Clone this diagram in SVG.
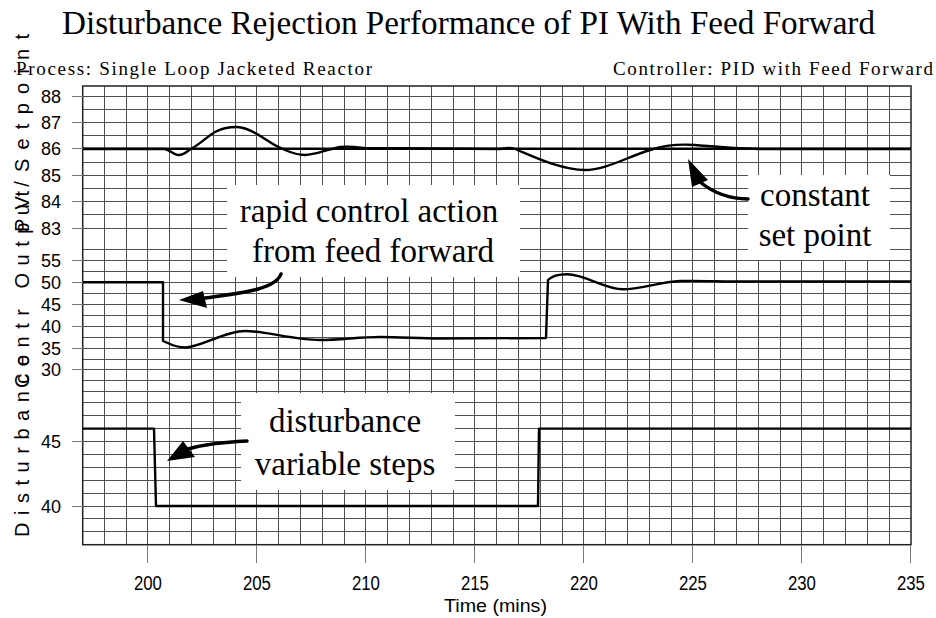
<svg xmlns="http://www.w3.org/2000/svg" width="936" height="618" viewBox="0 0 936 618">
<style>
.grid{stroke:#505050;stroke-width:1;fill:none;shape-rendering:crispEdges}
.tick{stroke:#777;stroke-width:1;fill:none;shape-rendering:crispEdges}
.frame{stroke:#222;stroke-width:1.5;fill:none}
.curve{stroke:#000;stroke-width:2.4;fill:none;stroke-linejoin:round}
.arr{stroke:#000;stroke-width:3.5;fill:none;stroke-linecap:round}
.head{fill:#000}
.serif{font-family:"Liberation Serif","Times New Roman",serif;fill:#000}
.sans{font-family:"Liberation Sans",Arial,sans-serif;fill:#000}
.ylab{font-size:18px;text-anchor:end}
.xlab{font-size:20px;text-anchor:middle}
.ann{font-size:33px;text-anchor:middle}
.box{fill:#fff}
</style>
<rect width="936" height="618" fill="#fff"/>
<g id="titles">
<text class="serif" x="62" y="34" font-size="33" textLength="813" lengthAdjust="spacingAndGlyphs">Disturbance Rejection Performance of PI With Feed Forward</text>
<text class="serif" x="16" y="75" font-size="19" textLength="356" lengthAdjust="spacing">Process: Single Loop Jacketed Reactor</text>
<text class="serif" x="613" y="75" font-size="19" textLength="320" lengthAdjust="spacing">Controller: PID with Feed Forward</text>
</g>
<g id="grid">
<path class="grid" d="M104.3,86V545M126.1,86V545M147.9,86V545M169.7,86V545M191.5,86V545M213.3,86V545M235.1,86V545M256.9,86V545M278.7,86V545M300.5,86V545M322.3,86V545M344.1,86V545M365.9,86V545M387.7,86V545M409.5,86V545M431.3,86V545M453.1,86V545M474.9,86V545M496.7,86V545M518.5,86V545M540.3,86V545M562.1,86V545M583.9,86V545M605.7,86V545M627.5,86V545M649.3,86V545M671.1,86V545M692.9,86V545M714.7,86V545M736.5,86V545M758.3,86V545M780.1,86V545M801.9,86V545M823.7,86V545M845.5,86V545M867.3,86V545M889.1,86V545"/>
<path class="grid" d="M83,96H911M83,109.2H911M83,122.4H911M83,135.6H911M83,148.8H911M83,162H911M83,175.2H911M83,188.4H911M83,201.6H911M83,214.8H911M83,228H911M83,249.5H911M83,260.4H911M83,271.4H911M83,282.3H911M83,293.3H911M83,304.2H911M83,315.2H911M83,326.1H911M83,337.1H911M83,348H911M83,359H911M83,369.9H911M83,380.9H911M83,391.8H911M83,402.8H911M83,415.7H911M83,428.6H911M83,441.5H911M83,454.4H911M83,467.3H911M83,480.2H911M83,493.1H911M83,506H911M83,518.9H911M83,531.8H911"/>
<rect class="frame" x="82.7" y="86" width="828.3" height="458.7"/>
</g>
<g id="axes">
<path class="tick" d="M72,96H83M72,122.4H83M72,148.8H83M72,175.2H83M72,201.6H83M72,228H83M72,260.4H83M72,282.3H83M72,304.2H83M72,326.1H83M72,348H83M72,369.9H83M72,441.5H83M72,506H83"/>
<path class="tick" d="M147.9,545V563M256.9,545V563M365.9,545V563M474.9,545V563M583.9,545V563M692.9,545V563M801.9,545V563M910.9,545V563"/>
<g class="sans ylab">
<text x="61" y="102.5">88</text><text x="61" y="128.9">87</text><text x="61" y="155.3">86</text><text x="61" y="181.7">85</text><text x="61" y="208.1">84</text><text x="61" y="234.5">83</text>
<text x="61" y="266.9">55</text><text x="61" y="288.8">50</text><text x="61" y="310.7">45</text><text x="61" y="332.6">40</text><text x="61" y="354.5">35</text><text x="61" y="376.4">30</text>
<text x="61" y="448">45</text><text x="61" y="512.5">40</text>
</g>
<g class="sans xlab">
<text x="147.9" y="590" textLength="28" lengthAdjust="spacingAndGlyphs">200</text>
<text x="256.9" y="590" textLength="28" lengthAdjust="spacingAndGlyphs">205</text>
<text x="365.9" y="590" textLength="28" lengthAdjust="spacingAndGlyphs">210</text>
<text x="474.9" y="590" textLength="28" lengthAdjust="spacingAndGlyphs">215</text>
<text x="583.9" y="590" textLength="28" lengthAdjust="spacingAndGlyphs">220</text>
<text x="692.9" y="590" textLength="28" lengthAdjust="spacingAndGlyphs">225</text>
<text x="801.9" y="590" textLength="28" lengthAdjust="spacingAndGlyphs">230</text>
<text x="910.9" y="590" textLength="28" lengthAdjust="spacingAndGlyphs">235</text>
</g>
<text class="sans" x="444" y="612" font-size="19" textLength="103" lengthAdjust="spacingAndGlyphs">Time (mins)</text>
<text class="sans" font-size="20" transform="translate(29,537) rotate(-90)" textLength="182" lengthAdjust="spacing">Disturbance</text>
<text class="sans" font-size="20" transform="translate(29,388) rotate(-90)" textLength="197" lengthAdjust="spacing">Contr Output</text>
<text class="sans" font-size="20" transform="translate(29,232) rotate(-90)" textLength="198" lengthAdjust="spacing">PV/Setpoint</text>
</g>
<g id="label-boxes">
<rect class="box" x="227" y="185" width="293" height="92"/>
<rect class="box" x="748" y="175" width="142" height="85"/>
<rect class="box" x="241" y="393" width="214" height="97"/>
</g>
<g id="connectors">
<path class="curve" d="M83,148.8H911"/>
<path class="curve" d="M83,149 L165,149 C170,150 174,155 179,155 C184,155 187,151 191,149 C200,144 208,136 215,132 C222,128 230,127 237,127 C245,127 256,133 265,139 C272,144 278,147 285,150 C292,153 298,155 305,155 C315,155 325,150 340,147 C348,146 356,147 365,148 L500,149 C506,148 510,147 515,149 C530,155 560,170 585,170 C605,170 625,158 650,150 C665,145 680,144 695,145 C710,146 725,148 760,149 L911,149"/>
<path class="curve" d="M83,282.3 L163,282.3 L163,341 C168,343 175,347.5 185,347.5 C200,347.5 225,331 245,331 C265,331 295,340 320,340 C340,340 360,337 380,337 C400,337 420,338.5 440,338.5 L546,338 L548,280 C552,276 558,274.3 567,274.3 C585,274.3 605,289.3 623,289.3 C640,289.3 660,282 680,281 C700,280.5 720,281.5 740,281.5 L911,281.5"/>
<path class="curve" d="M83,428.6 L154,428.6 L156,506 L538,506 L539,428.6 L911,428.6"/>
<path class="arr" d="M281,274 C275,290 240,293 205,298"/>
<polygon class="head" points="179,300 203,291 207,308"/>
<path class="arr" d="M748,199 C725,199 710,190 700,182"/>
<polygon class="head" points="688,159 708,180 692,187"/>
<path class="arr" d="M247,441 C225,442 205,444 188,449"/>
<polygon class="head" points="167,461 183,441 195,457"/>
</g>
<g id="annotations" class="serif ann">
<text x="369" y="222">rapid control action</text>
<text x="373" y="262">from feed forward</text>
<text x="815" y="206">constant</text>
<text x="815" y="246">set point</text>
<text x="345" y="432">disturbance</text>
<text x="345" y="475">variable steps</text>
</g>
</svg>
